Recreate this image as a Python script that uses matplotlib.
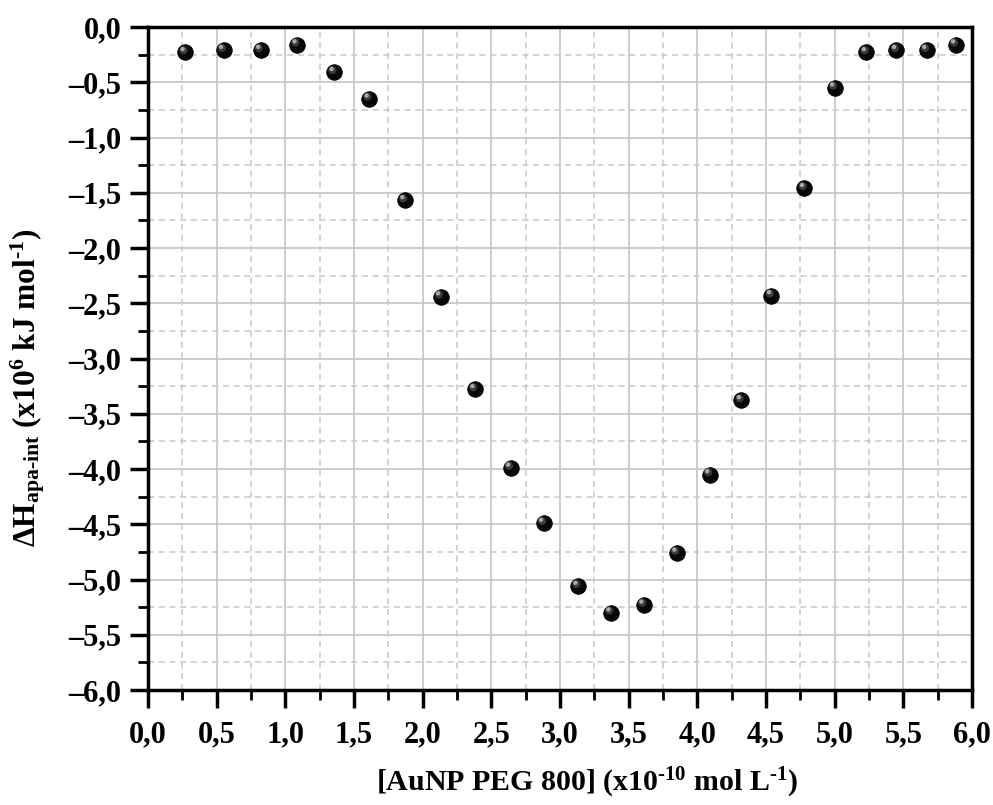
import matplotlib
matplotlib.use("Agg")
import matplotlib.pyplot as plt
from matplotlib.ticker import MultipleLocator, FuncFormatter

# Datos: entalpía aparente vs concentración de AuNP PEG 800
conc = [0.27, 0.55, 0.82, 1.085, 1.355, 1.61, 1.87, 2.13, 2.38, 2.64, 2.88, 3.13,
        3.37, 3.61, 3.85, 4.09, 4.32, 4.54, 4.78, 5.00, 5.23, 5.45, 5.67, 5.88]
dH = [-0.23, -0.21, -0.21, -0.16, -0.41, -0.65, -1.57, -2.44, -3.28, -3.99, -4.49, -5.06,
      -5.30, -5.23, -4.76, -4.05, -3.38, -2.43, -1.46, -0.55, -0.23, -0.21, -0.21, -0.16]

plt.rcParams["font.family"] = ["Liberation Serif", "DejaVu Serif"]
plt.rcParams["font.weight"] = "bold"
plt.rcParams["mathtext.fontset"] = "custom"
plt.rcParams["mathtext.rm"] = "Liberation Serif:bold"
plt.rcParams["mathtext.it"] = "Liberation Serif:bold"
plt.rcParams["mathtext.bf"] = "Liberation Serif:bold"

fig = plt.figure(figsize=(9.93, 8.05), dpi=100)
ax = fig.add_axes([148 / 993, 1 - 690 / 805, 824 / 993, 663 / 805])

# Rejilla: mayor sólida, menor discontinua
ax.xaxis.set_major_locator(MultipleLocator(0.5))
ax.xaxis.set_minor_locator(MultipleLocator(0.25))
ax.yaxis.set_major_locator(MultipleLocator(0.5))
ax.yaxis.set_minor_locator(MultipleLocator(0.25))
ax.grid(which="major", color="#c8c8c8", linewidth=1.3, linestyle="-")
ax.grid(which="minor", color="#c8c8c8", linewidth=1.1, linestyle=(0, (4, 3)))
ax.set_axisbelow(True)

# Puntos tipo esfera: cuerpo negro + sombreado gris
ax.scatter(conc, dH, s=125, color="#080808", edgecolors="black", linewidths=0.6, zorder=3)
ax.scatter([c - 0.012 for c in conc], [h + 0.02 for h in dH], s=35, color="#3a3a3a",
           edgecolors="none", zorder=4)
ax.scatter([c - 0.018 for c in conc], [h + 0.03 for h in dH], s=10, color="#a8a8a8",
           edgecolors="none", zorder=5)

ax.set_xlim(0, 6)
ax.set_ylim(-6, 0)

fmt = FuncFormatter(lambda v, p: f"{v:.1f}".replace(".", ",").replace("-", "–"))
ax.xaxis.set_major_formatter(fmt)
ax.yaxis.set_major_formatter(fmt)

for s in ax.spines.values():
    s.set_linewidth(2.5)
ax.tick_params(which="major", direction="out", length=13, width=2.5, labelsize=22)
ax.tick_params(which="minor", direction="out", length=7, width=2.0)
ax.tick_params(axis="x", which="major", pad=9)
ax.tick_params(axis="y", which="major", pad=6)
ax.tick_params(top=False, right=False, which="both")
for lab in ax.get_xticklabels() + ax.get_yticklabels():
    lab.set_fontweight("bold")

ax.set_xlabel(r"[AuNP PEG 800] (x10$^{\text{-10}}$ mol L$^{\text{-1}}$)", fontsize=21.5, fontweight="bold")
ax.set_ylabel(r"ΔH$_{\text{apa-int}}$ (x10$^{6}$ kJ mol$^{\text{-1}}$)", fontsize=22.5, fontweight="bold")
ax.xaxis.set_label_coords(0.533, -0.115)
ax.yaxis.set_label_coords(-0.122, 0.455)

fig.savefig("out.png", dpi=100)
